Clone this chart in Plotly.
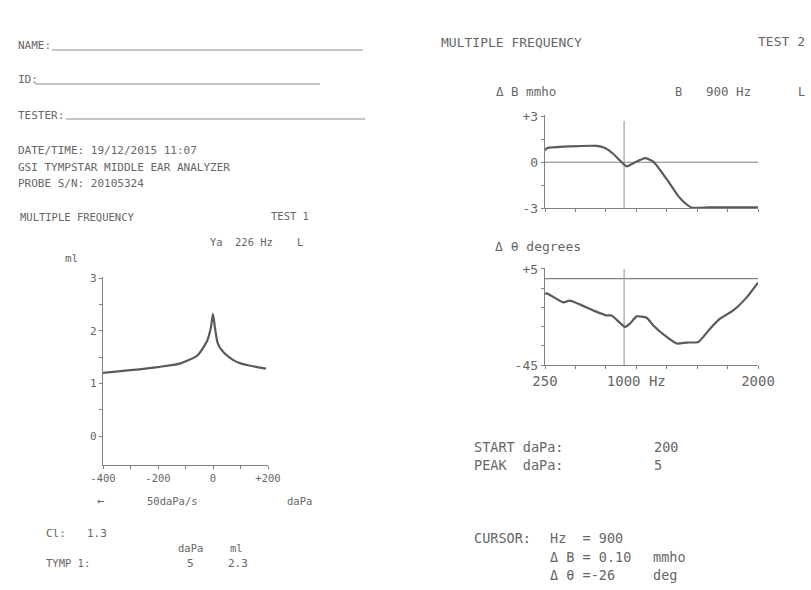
import plotly.graph_objects as go

W, H = 811, 590

# ---------------- data ----------------
# Test 1: 226 Hz tympanogram (ml vs daPa)
tymp_dapa = [-400, -300, -200, -118, -57, -21, -8, 0, 8, 18, 40, 71, 100, 132, 160, 193]
tymp_ml = [1.20, 1.25, 1.31, 1.38, 1.53, 1.81, 2.05, 2.32, 2.02, 1.75, 1.58, 1.45, 1.38, 1.34, 1.31, 1.28]

# Test 2: multiple frequency, delta B (mmho) vs Hz
db_hz = [250, 270, 455, 675, 743, 810, 866, 921, 990, 1072, 1140, 1250, 1345, 1400, 1455, 1600, 1800, 2000]
db_mmho = [0.78, 0.93, 1.04, 1.07, 0.93, 0.56, 0.11, -0.27, 0.0, 0.27, 0.04, -1.11, -2.22, -2.67, -2.97, -2.96, -2.95, -2.95]

# Test 2: delta theta (degrees) vs Hz
dt_hz = [250, 265, 400, 455, 647, 757, 798, 907, 948, 1003, 1085, 1140, 1250, 1332, 1414, 1510, 1606, 1688, 1797, 1907, 2000]
dt_deg = [-8.0, -7.7, -12.4, -11.5, -16.6, -19.2, -19.2, -25.2, -23.5, -19.7, -20.4, -24.4, -30.4, -33.8, -33.3, -33.0, -26.1, -20.9, -16.6, -9.8, -2.1]

cursor_hz = 900
ref_zero = 0

# tick definitions
t1_xticks = [-400, -300, -200, -100, 0, 100, 200]
t1_xtext = ["-400", "", "-200", "", "0", "", "+200"]
t1_yticks = [0, 0.5, 1, 1.5, 2, 2.5, 3]
t1_ytext = ["0", "", "1", "", "2", "", "3"]
hz_ticks = [250, 500, 750, 1000, 1250, 1500, 1750, 2000]
hz_text = ["250", "", "", "1000 Hz", "", "", "", "2000"]
db_ticks = [-3, -1.5, 0, 1.5, 3]
db_text = ["-3", "", "0", "", "+3"]
dt_ticks = [-45, -35, -25, -15, -5, 5]
dt_text = ["-45", "", "", "", "", "+5"]

# ---------------- styling ----------------
LINE = "#5a5a5a"
AX = "#808080"
TXT = "#666666"
FONT = "DejaVu Sans Mono"


def px(x):
    return x / W


def py(y):
    return 1 - y / H


fig = go.Figure()

fig.add_trace(go.Scatter(x=tymp_dapa, y=tymp_ml, mode="lines", line=dict(color=LINE, width=2.2, shape="spline", smoothing=0.6),
                         xaxis="x", yaxis="y", hoverinfo="skip"))
fig.add_trace(go.Scatter(x=[250, 2000], y=[ref_zero, ref_zero], mode="lines", line=dict(color=AX, width=1.2),
                         xaxis="x2", yaxis="y2", hoverinfo="skip"))
fig.add_trace(go.Scatter(x=[cursor_hz, cursor_hz], y=[-3, 2.7], mode="lines", line=dict(color="#a0a0a0", width=1.2),
                         xaxis="x2", yaxis="y2", hoverinfo="skip"))
fig.add_trace(go.Scatter(x=db_hz, y=db_mmho, mode="lines", line=dict(color=LINE, width=2.2, shape="spline", smoothing=0.5),
                         xaxis="x2", yaxis="y2", hoverinfo="skip"))
fig.add_trace(go.Scatter(x=[250, 2000], y=[ref_zero, ref_zero], mode="lines", line=dict(color=AX, width=1.2),
                         xaxis="x3", yaxis="y3", hoverinfo="skip"))
fig.add_trace(go.Scatter(x=[cursor_hz, cursor_hz], y=[-45, 5], mode="lines", line=dict(color="#a0a0a0", width=1.2),
                         xaxis="x3", yaxis="y3", hoverinfo="skip"))
fig.add_trace(go.Scatter(x=dt_hz, y=dt_deg, mode="lines", line=dict(color=LINE, width=2.2, shape="spline", smoothing=0.5),
                         xaxis="x3", yaxis="y3", hoverinfo="skip"))

common_ax = dict(showline=True, linecolor=AX, linewidth=1.3, showgrid=False, zeroline=False, automargin=False,
                 ticks="outside", ticklen=3, tickcolor=AX, tickmode="array", fixedrange=True)

left_dom_x = [px(103), px(268)]
left_dom_y = [py(465), py(277)]
right_dom_x = [px(545), px(758)]
top_dom_y = [py(208), py(115)]
bot_dom_y = [py(365), py(268)]

fig.update_layout(
    width=W, height=H, margin=dict(l=0, r=0, t=0, b=0, pad=0, autoexpand=False), autosize=False,
    paper_bgcolor="white", plot_bgcolor="rgba(0,0,0,0)", showlegend=False,
    font=dict(family=FONT, color=TXT, size=11),
    xaxis=dict(common_ax, domain=left_dom_x, range=[-400, 200], anchor="y",
               tickvals=t1_xticks, ticktext=t1_xtext, tickfont=dict(size=10.5, color=TXT)),
    yaxis=dict(common_ax, domain=left_dom_y, range=[-0.55, 3.02], anchor="x",
               tickvals=t1_yticks, ticktext=t1_ytext, tickfont=dict(size=11, color=TXT)),
    xaxis2=dict(common_ax, domain=right_dom_x, range=[250, 2000], anchor="y2",
                tickvals=hz_ticks, ticktext=[""] * len(hz_ticks)),
    yaxis2=dict(common_ax, domain=top_dom_y, range=[-3, 3.1], anchor="x2",
                tickvals=db_ticks, ticktext=db_text, tickfont=dict(size=13, color=TXT)),
    xaxis3=dict(common_ax, domain=right_dom_x, range=[250, 2000], anchor="y3",
                tickvals=hz_ticks, ticktext=hz_text, tickfont=dict(size=14, color=TXT)),
    yaxis3=dict(common_ax, domain=bot_dom_y, range=[-45, 5.5], anchor="x3",
                tickvals=dt_ticks, ticktext=dt_text, tickfont=dict(size=13, color=TXT)),
)


def label(text, x, y, size=11, anchor="left"):
    fig.add_annotation(text=text, x=px(x), y=py(y), xref="paper", yref="paper",
                       xanchor=anchor, yanchor="middle", showarrow=False, borderpad=0,
                       font=dict(family=FONT, size=size, color=TXT))


# left header
label("NAME:", 17, 46)
label("ID:", 17, 80)
label("TESTER:", 17, 115)
label("DATE/TIME: 19/12/2015 11:07", 17, 150)
label("GSI TYMPSTAR MIDDLE EAR ANALYZER", 17, 167)
label("PROBE S/N: 20105324", 17, 184)
label("MULTIPLE FREQUENCY", 19, 217, 10.5)
label("TEST 1", 270, 216, 10.5)
label("Ya", 209, 242, 10.5)
label("226 Hz", 234, 242, 10.5)
label("L", 296, 242, 10.5)
label("ml", 71, 258, 11, "center")
label("\u2190", 96, 501, 12)
label("50daPa/s", 146, 501, 10.5)
label("daPa", 286, 501, 10.5)
label("Cl:", 45, 533)
label("1.3", 86, 533)
label("daPa", 177, 548, 10.5)
label("ml", 229, 548, 10.5)
label("TYMP 1:", 45, 563, 10.5)
label("5", 190, 563, 11, "center")
label("2.3", 227, 563)

for (x0, x1, y) in [(52, 363, 50), (35, 320, 84), (66, 365, 119)]:
    fig.add_shape(type="line", xref="paper", yref="paper", x0=px(x0), x1=px(x1), y0=py(y), y1=py(y),
                  line=dict(color="#8a8a8a", width=1))

# right header
label("MULTIPLE FREQUENCY", 440, 43, 13)
label("TEST 2", 757, 42, 13)
label("\u0394 B mmho", 495, 92, 12.5)
label("B", 674, 92, 12)
label("900 Hz", 705, 92, 12.5)
label("L", 797, 92, 12)
label("\u0394 \u03b8 degrees", 494, 247, 13)

label("START daPa:", 473, 447, 13.5)
label("200", 653, 447, 13.5)
label("PEAK  daPa:", 473, 465, 13.5)
label("5", 653, 465, 13.5)
label("CURSOR:", 473, 538, 13.5)
label("Hz  = 900", 549, 538, 13.5)
label("\u0394 B = 0.10", 549, 557, 13.5)
label("mmho", 652, 557, 13.5)
label("\u0394 \u03b8 =-26", 549, 575, 13.5)
label("deg", 652, 575, 13.5)

fig.write_html("out.html", config={"displayModeBar": False, "staticPlot": True},
               post_script="document.body.style.margin='0px';document.body.style.overflow='hidden';")
